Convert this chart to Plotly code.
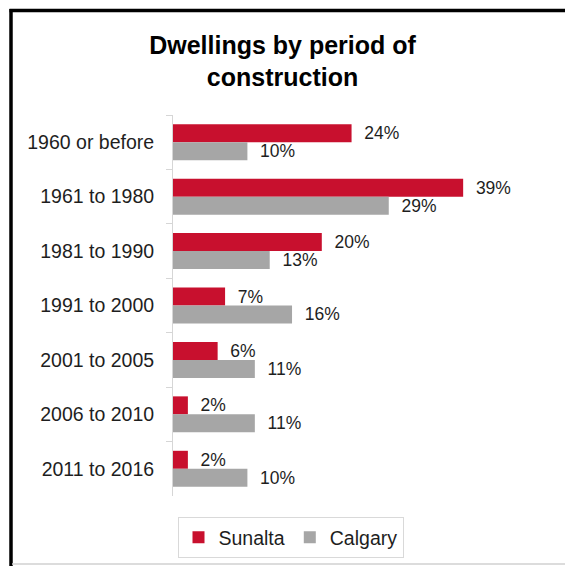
import plotly.graph_objects as go

# Dwelling age distribution, Sunalta vs. City of Calgary (share of dwellings, %)
periods = [
    "1960 or before",
    "1961 to 1980",
    "1981 to 1990",
    "1991 to 2000",
    "2001 to 2005",
    "2006 to 2010",
    "2011 to 2016",
]
sunalta = [24, 39, 20, 7, 6, 2, 2]
calgary = [10, 29, 13, 16, 11, 11, 10]
series_names = ["Sunalta", "Calgary"]
title_lines = ["Dwellings by period of", "construction"]

RED = "#C8102E"
GREY = "#A6A6A6"
TEXT = "#1E1E1E"
FONT = "Liberation Sans, Arial, sans-serif"

W, H = 565, 566
ML, MR, MT, MB = 173, 20, 115, 70


def px_x(p):
    """Page pixel column -> paper x."""
    return (p - ML) / (W - ML - MR)


def px_y(p):
    """Page pixel row -> paper y."""
    return (H - MB - p) / (H - MT - MB)


label_tpl = "\u00a0\u00a0%{x}%"

fig = go.Figure()
fig.add_trace(go.Bar(
    name=series_names[0], y=periods, x=sunalta, orientation="h",
    marker=dict(color=RED, line=dict(width=0)),
    texttemplate=label_tpl, textposition="outside", constraintext="none",
    textfont=dict(family=FONT, size=17.5, color=TEXT),
))
fig.add_trace(go.Bar(
    name=series_names[1], y=periods, x=calgary, orientation="h",
    marker=dict(color=GREY, line=dict(width=0)),
    texttemplate=label_tpl, textposition="outside", constraintext="none",
    textfont=dict(family=FONT, size=17.5, color=TEXT),
))

# frame around the chart: heavy black top/left edges, faint bottom edge
frame = [
    dict(x0=px_x(11), x1=px_x(11), y0=px_y(9), y1=px_y(575), color="#000000", width=3.5),
    dict(x0=px_x(9.5), x1=px_x(580), y0=px_y(10.5), y1=px_y(10.5), color="#000000", width=3.5),
    dict(x0=px_x(12), x1=px_x(580), y0=px_y(564), y1=px_y(564), color="#D0D0D0", width=1.5),
]
for f in frame:
    fig.add_shape(type="line", xref="paper", yref="paper",
                  x0=f["x0"], x1=f["x1"], y0=f["y0"], y1=f["y1"],
                  line=dict(color=f["color"], width=f["width"]))

fig.update_layout(
    width=W, height=H,
    margin=dict(l=ML, r=MR, t=MT, b=MB, pad=0, autoexpand=False),
    paper_bgcolor="white", plot_bgcolor="white",
    barmode="group", bargap=0.339, bargroupgap=0,
    font=dict(family=FONT, color=TEXT),
    title=dict(
        text="<br>".join(title_lines),
        font=dict(family=FONT, size=25, color="#000000", weight="bold"),
        x=0.5, xref="container", xanchor="center",
        y=1 - 53.5 / H, yref="container", yanchor="top",
    ),
    xaxis=dict(range=[0, 50], visible=False, fixedrange=True),
    yaxis=dict(
        autorange="reversed",
        showline=True, linecolor="#D6D6D6", linewidth=1,
        ticks="outside", tickson="boundaries", ticklen=6, tickcolor="#D6D6D6",
        tickfont=dict(family=FONT, size=19.5, color=TEXT),
        ticklabelstandoff=14,
        showgrid=False, zeroline=False,
    ),
    legend=dict(
        orientation="h",
        x=px_x(290.5), xanchor="center",
        y=px_y(517), yanchor="top",
        font=dict(family=FONT, size=19.5, color=TEXT),
        bgcolor="white", bordercolor="#D9D9D9", borderwidth=1,
        itemwidth=30, traceorder="normal",
    ),
    showlegend=True,
)

fig.write_html("out.html")
